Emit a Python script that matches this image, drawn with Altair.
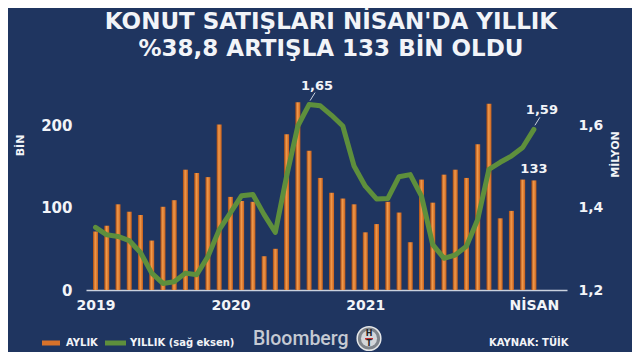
import altair as alt
import pandas as pd

# ---- data ----
aylik = [71, 78, 104, 95, 91, 60, 101, 109, 146, 142, 137, 201,
         113, 108, 107, 41, 50, 189, 228, 169, 136, 118, 111, 104,
         70, 80, 107, 94, 58, 134, 106, 140, 146, 136, 177, 226,
         87, 96, 134, 133]
yillik = [1.352, 1.334, 1.330, 1.320, 1.291, 1.241, 1.216, 1.220, 1.241, 1.237, 1.281, 1.346,
          1.387, 1.429, 1.432, 1.383, 1.340, 1.476, 1.598, 1.650, 1.647, 1.624, 1.598, 1.501,
          1.452, 1.421, 1.422, 1.475, 1.480, 1.428, 1.310, 1.277, 1.285, 1.306, 1.371, 1.493,
          1.510, 1.525, 1.546, 1.590]
x_ticks = [0, 12, 24, 39]
x_tick_labels = ["2019", "2020", "2021", "NİSAN"]
left_ticks = [0, 100, 200]
right_ticks = [1.2, 1.4, 1.6]
title_lines = ["KONUT SATIŞLARI NİSAN'DA YILLIK", "%38,8 ARTIŞLA 133 BİN OLDU"]
legend_texts = ["AYLIK", "YILLIK (sağ eksen)", "KAYNAK: TÜİK"]
line_label_idx = [19, 39]
bar_label_idx = [39]

df = pd.DataFrame({"i": list(range(len(aylik))), "aylik": aylik, "yillik": yillik})

FONT = "DejaVu Sans"
BG = "#1f3560"
WHITE = "#f2f4f8"
GREEN = "#5e8f3c"
ORANGE_GRAD = alt.Gradient(
    gradient="linear",
    stops=[alt.GradientStop(color="#a94a10", offset=0),
           alt.GradientStop(color="#f09a4c", offset=0.45),
           alt.GradientStop(color="#c9601a", offset=1)],
    x1=0, x2=1, y1=0, y2=0,
)

label_expr = "".join(
    f"datum.value == {v} ? '{t}' : " for v, t in zip(x_ticks, x_tick_labels)
) + "''"

xscale = alt.Scale(domain=[-0.4, 41.5], nice=False, zero=False)
xaxis = alt.Axis(values=x_ticks, labelExpr=label_expr, title=None, ticks=False,
                 grid=False, domainColor="#c9d1de", domainWidth=1.5,
                 labelColor=WHITE, labelFont=FONT, labelFontWeight="bold",
                 labelFontSize=14, labelPadding=8, labelAngle=0)
lscale = alt.Scale(domain=[0, 250], nice=False, zero=True)
rscale = alt.Scale(domain=[1.2, 1.7], nice=False, zero=False)

bars = alt.Chart(df).mark_bar(size=5, color=ORANGE_GRAD).encode(
    x=alt.X("i:Q", scale=xscale, axis=xaxis),
    y=alt.Y("aylik:Q", scale=lscale,
            axis=alt.Axis(orient="left", values=left_ticks, title="BİN", grid=False,
                          ticks=False, domain=False, labelColor=WHITE, labelFont=FONT,
                          labelFontWeight="bold", labelFontSize=15, labelPadding=14,
                          titleColor=WHITE, titleFont=FONT, titleFontWeight="bold",
                          titleFontSize=11, titleAngle=-90, titleX=-66, titleY=61,
                          titleAlign="center", titleBaseline="middle")),
)
bar_label = alt.Chart(df).transform_filter(
    alt.FieldOneOfPredicate(field="i", oneOf=bar_label_idx)
).mark_text(dy=-11, color=WHITE, font=FONT, fontWeight="bold", fontSize=13,
            baseline="middle").encode(
    x=alt.X("i:Q", scale=xscale), y=alt.Y("aylik:Q", scale=lscale), text="aylik:Q")

line = alt.Chart(df).mark_line(color=GREEN, strokeWidth=5, strokeJoin="round",
                               strokeCap="round").encode(
    x=alt.X("i:Q", scale=xscale),
    y=alt.Y("yillik:Q", scale=rscale,
            axis=alt.Axis(orient="right", values=right_ticks, title="MİLYON", grid=False,
                          ticks=False, domain=False,
                          labelExpr="replace(format(datum.value, '.1f'), '.', ',')",
                          labelColor=WHITE, labelFont=FONT, labelFontWeight="bold",
                          labelFontSize=14, labelPadding=11,
                          titleColor=WHITE, titleFont=FONT, titleFontWeight="bold",
                          titleFontSize=11, titleAngle=-90, titleX=48, titleY=70,
                          titleAlign="center", titleBaseline="middle")),
)
line_sel = alt.Chart(df).transform_filter(
    alt.FieldOneOfPredicate(field="i", oneOf=line_label_idx)
).transform_calculate(lbl="replace(format(datum.yillik, '.2f'), '.', ',')")
line_labels = line_sel.mark_text(dx=8, dy=-19, color=WHITE, font=FONT, fontWeight="bold",
                                 fontSize=13, baseline="middle").encode(
    x=alt.X("i:Q", scale=xscale), y=alt.Y("yillik:Q", scale=rscale), text="lbl:N")
leaders = line_sel.mark_rule(color="#c9d1de", strokeWidth=1, xOffset=1, yOffset=-4,
                             x2Offset=6, y2Offset=-12).encode(
    x=alt.X("i:Q", scale=xscale), x2="i:Q",
    y=alt.Y("yillik:Q", scale=rscale), y2="yillik:Q")

# title lines (pixel positions relative to the plot area)
tdf = pd.DataFrame({"t": title_lines, "py": [-55, -28.5]})
titles = alt.Chart(tdf).mark_text(color=WHITE, font=FONT, fontWeight="bold", fontSize=23,
                                  baseline="alphabetic", align="center").encode(
    x=alt.value(245), y=alt.Y("py:Q", scale=None), text="t:N")

# legend / footer
leg_txt = alt.Chart(pd.DataFrame({"t": legend_texts, "px": [-20, 44, 403]})).mark_text(
    color=WHITE, font=FONT, fontWeight="bold", fontSize=10, align="left",
    baseline="middle").encode(x=alt.X("px:Q", scale=None), y=alt.value(259), text="t:N")
sw1 = alt.Chart(pd.DataFrame({"a": [0]})).mark_rule(strokeWidth=5, color="#d8722a").encode(
    x=alt.value(-44), x2=alt.value(-26), y=alt.value(259))
sw2 = alt.Chart(pd.DataFrame({"a": [0]})).mark_rule(strokeWidth=5, color=GREEN).encode(
    x=alt.value(19), x2=alt.value(40), y=alt.value(259))
bloom = alt.Chart(pd.DataFrame({"t": ["Bloomberg"]})).mark_text(
    color="#c5cad3", font="Roboto", fontWeight=500, fontSize=19.5, align="left",
    baseline="middle").encode(x=alt.value(167), y=alt.value(255), text="t:N")
logo = alt.Chart(pd.DataFrame({"a": [0]})).mark_point(
    shape="circle", filled=True, size=560, color="#7f848b", stroke="#e4e6e8",
    strokeWidth=1.5, opacity=1).encode(x=alt.value(283), y=alt.value(254.5))
logo_in = alt.Chart(pd.DataFrame({"a": [0]})).mark_point(
    shape="circle", filled=True, size=260, color="#d3d6da", opacity=1).encode(
    x=alt.value(283), y=alt.value(254.5))
logo_txt = alt.Chart(pd.DataFrame({"t": ["H", "T"], "py": [249.5, 260]})).mark_text(
    color="#222222", font=FONT, fontWeight="bold", fontSize=8, baseline="middle").encode(
    x=alt.value(283), y=alt.Y("py:Q", scale=None), text="t:N")
logo_bar = alt.Chart(pd.DataFrame({"a": [0]})).mark_rule(strokeWidth=1.5, color="#c0262c").encode(
    x=alt.value(279), x2=alt.value(287), y=alt.value(254.8))

main = alt.layer(
    alt.layer(bars, bar_label),
    alt.layer(line, leaders, line_labels),
).resolve_scale(y="independent")

chart = alt.layer(main, titles, leg_txt, sw1, sw2, bloom, logo, logo_in, logo_bar,
                  logo_txt).resolve_scale(y="independent").properties(
    width=481, height=206,
    autosize=alt.AutoSizeParams(type="none"),
    padding={"left": 78, "top": 76, "right": 65, "bottom": 62},
    background=BG,
).configure_view(stroke=None)

chart.save("out.html", embed_options={"renderer": "svg", "actions": False})
